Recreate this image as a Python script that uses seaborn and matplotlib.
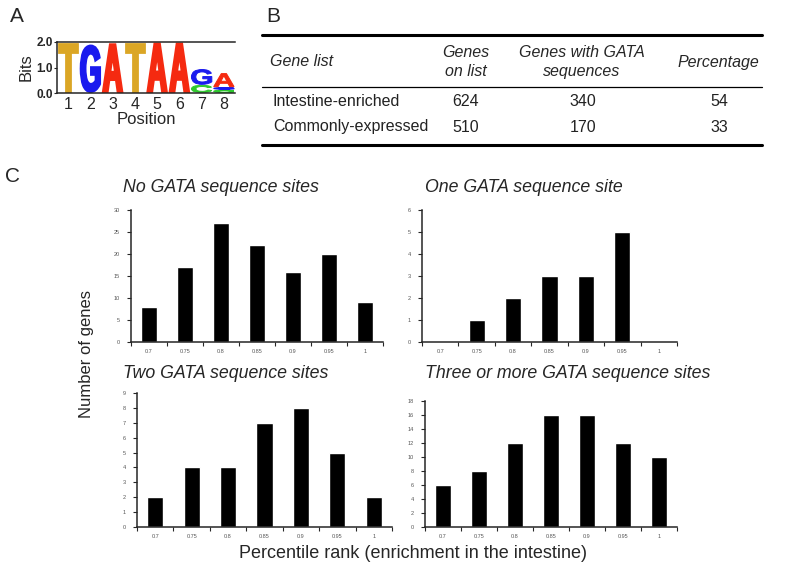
import numpy as np
import seaborn as sns
import matplotlib.pyplot as plt
from matplotlib.textpath import TextPath
from matplotlib.font_manager import FontProperties
from matplotlib.patches import PathPatch
from matplotlib.transforms import Affine2D

# panel A: GATA motif logo, letter heights in bits, stacked bottom to top
logo_positions = [1, 2, 3, 4, 5, 6, 7, 8]
logo_letters = [["T"], ["G"], ["A"], ["T"], ["A"], ["A"], ["C", "G"], ["C", "G", "A"]]
logo_bits = [[1.98], [1.9], [1.95], [1.98], [1.98], [1.98], [0.32, 0.62], [0.13, 0.1, 0.55]]
letter_colors = {"A": "#f52a10", "C": "#2ec82e", "G": "#1a1aee", "T": "#dba625"}

# panel B: table
table_header = ["Gene list", "Genes\non list", "Genes with GATA\nsequences", "Percentage"]
gene_lists = ["Intestine-enriched", "Commonly-expressed"]
genes_on_list = [624, 510]
genes_with_gata = [340, 170]
percentage = [54, 33]

# panel C: number of genes per percentile rank
ranks = ["0.7", "0.75", "0.8", "0.85", "0.9", "0.95", "1"]
no_sites = [8, 17, 27, 22, 16, 20, 9]
one_site = [0, 1, 2, 3, 3, 5, 0]
two_sites = [2, 4, 4, 7, 8, 5, 2]
three_plus_sites = [6, 8, 12, 16, 16, 12, 10]

sns.set_style("ticks")
plt.rcParams["font.family"] = ["Liberation Sans", "DejaVu Sans"]
plt.rcParams["axes.linewidth"] = 1.1

W, H = 798, 565
fig = plt.figure(figsize=(W / 100, H / 100), dpi=100)


def rect(left, top, right, bottom):
    return [left / W, 1 - bottom / H, (right - left) / W, (bottom - top) / H]


# overlay in pixel units for labels and the table
ov = fig.add_axes([0, 0, 1, 1])
ov.set_xlim(0, W)
ov.set_ylim(H, 0)
ov.axis("off")
ov.patch.set_alpha(0)

# ---- A: sequence logo
ax = fig.add_axes(rect(57, 42, 235, 93))
fp = FontProperties(family="Liberation Sans", weight="bold")
px_x = 178 / 8   # pixels per position
px_y = 51 / 2    # pixels per bit


def draw_letter(ax, ch, x, y0, h):
    lw = 2.0 if h > 1 else 0.7
    pad = lw / 2 * 100 / 72
    w = 0.96 - 2 * pad / px_x
    hh = h - 2 * pad / px_y
    tp = TextPath((0, 0), ch, size=1, prop=fp)
    bb = tp.get_extents()
    tr = (Affine2D().translate(-bb.x0, -bb.y0)
          .scale(w / bb.width, hh / bb.height)
          .translate(x - w / 2, y0 + pad / px_y))
    # a thick edge in the same colour makes the letters heavier, like the logo font
    ax.add_patch(PathPatch(tr.transform_path(tp), fc=letter_colors[ch],
                           ec=letter_colors[ch], lw=lw))


for pos, letters, bits in zip(logo_positions, logo_letters, logo_bits):
    base = 0.0
    for ch, h in zip(letters, bits):
        draw_letter(ax, ch, pos, base, h)
        base += h

ax.set_xlim(0.5, 8.5)
ax.set_ylim(0, 2)
ax.set_xticks(logo_positions)
ax.set_xticklabels([str(p) for p in logo_positions], fontsize=11.5)
ax.set_yticks([0, 1, 2])
ax.set_yticklabels(["0.0", "1.0", "2.0"], fontsize=8.5, fontweight="bold")
ax.tick_params(axis="x", length=0, pad=3)
ax.tick_params(axis="y", length=2, pad=1)
ax.spines["right"].set_visible(False)
ax.set_xlabel("Position", fontsize=12, labelpad=0)
ax.set_ylabel("Bits", fontsize=12, labelpad=2)

# ---- B: table
ov.plot([262, 762], [35, 35], color="black", lw=2.2)
ov.plot([262, 762], [87, 87], color="black", lw=0.9)
ov.plot([262, 762], [145, 145], color="black", lw=2.2)
col_x = [270, 466, 582, 718]
col_ha = ["left", "center", "center", "center"]
for txt, x, ha in zip(table_header, col_x, col_ha):
    ov.text(x, 62, txt, ha=ha, va="center", fontsize=11.5, style="italic",
            linespacing=1.3)
row_y = [102, 127]
for i, y in enumerate(row_y):
    ov.text(273, y, gene_lists[i], ha="left", va="center", fontsize=11.5, color="#222222")
    ov.text(466, y, str(genes_on_list[i]), ha="center", va="center", fontsize=11.5, color="#222222")
    ov.text(583, y, str(genes_with_gata[i]), ha="center", va="center", fontsize=11.5, color="#222222")
    ov.text(719, y, str(percentage[i]), ha="center", va="center", fontsize=11.5, color="#222222")

# ---- C: bar charts
panels = [
    (rect(131, 210, 383, 342), no_sites, 30, 5, "No GATA sequence sites", (123, 187)),
    (rect(422, 210, 677, 342), one_site, 6, 1, "One GATA sequence site", (425, 187)),
    (rect(137, 393, 392, 527), two_sites, 9, 1, "Two GATA sequence sites", (123, 374)),
    (rect(425, 401, 677, 527), three_plus_sites, 18, 2, "Three or more GATA sequence sites", (425, 374)),
]
for r, values, ymax, step, title, (tx, ty) in panels:
    ax = fig.add_axes(r)
    sns.barplot(x=ranks, y=values, color="black", saturation=1, width=0.44, ax=ax)
    ax.set_xlim(-0.5, 6.5)
    ax.set_ylim(0, ymax)
    ax.set_yticks(np.arange(0, ymax + 1, step))
    ax.set_xticks(np.arange(-0.5, 7, 1), minor=True)
    ax.tick_params(axis="x", which="major", length=0, labelsize=4, labelcolor="#555555", pad=5)
    ax.tick_params(axis="x", which="minor", length=3, width=0.8, direction="out")
    ax.tick_params(axis="y", length=3, width=0.8, labelsize=4, labelcolor="#555555", pad=5)
    ax.set_xlabel("")
    ax.set_ylabel("")
    sns.despine(ax=ax)
    ov.text(tx, ty, title, ha="left", va="center", fontsize=12.8, style="italic")

ov.text(86, 354, "Number of genes", rotation=90, ha="center", va="center", fontsize=12)
ov.text(413, 553, "Percentile rank (enrichment in the intestine)", ha="center", va="center",
        fontsize=13)

# panel letters
ov.text(17, 17, "A", ha="center", va="center", fontsize=15)
ov.text(273, 17, "B", ha="center", va="center", fontsize=15)
ov.text(13, 176, "C", ha="center", va="center", fontsize=15)

fig.savefig("out.png", dpi=100)
